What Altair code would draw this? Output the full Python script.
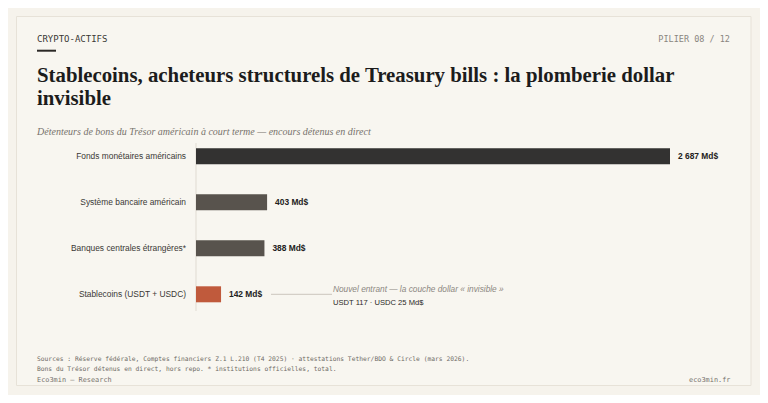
import altair as alt
import pandas as pd

# ---- data ----
categories = [
    "Fonds monétaires américains",
    "Système bancaire américain",
    "Banques centrales étrangères*",
    "Stablecoins (USDT + USDC)",
]
values = [2687, 403, 388, 142]  # Md$
value_labels = ["2 687 Md$", "403 Md$", "388 Md$", "142 Md$"]
bar_colors = ["#333231", "#58534d", "#58534d", "#c05a3c"]

annot_title = "Nouvel entrant — la couche dollar « invisible »"
annot_detail = "USDT 117 · USDC 25 Md$"

kicker = "CRYPTO-ACTIFS"
pillar = "PILIER 08 / 12"
title_lines = [
    "Stablecoins, acheteurs structurels de Treasury bills : la plomberie dollar",
    "invisible",
]
subtitle = "Détenteurs de bons du Trésor américain à court terme — encours détenus en direct"
source_lines = [
    "Sources : Réserve fédérale, Comptes financiers Z.1 L.210 (T4 2025) · attestations Tether/BDO & Circle (mars 2026).",
    "Bons du Trésor détenus en direct, hors repo. * institutions officielles, total.",
]
brand_left = "Eco3min — Research"
brand_right = "eco3min.fr"

df = pd.DataFrame({"cat": categories, "val": values, "lab": value_labels})

W, H = 752, 387
BG = "#f6f3ec"
CARD = "#f8f6f0"

xs = alt.Scale(domain=[0, 2687], range=[188, 662])
ys = alt.Scale(domain=categories, range=[125.3, 309.3], paddingInner=0, paddingOuter=0)

one = alt.Data(values=[{"a": 1}])

card = alt.Chart(one).mark_rect(fill=CARD, stroke="#e7e2d8", strokeWidth=1).encode(
    x=alt.value(8.5), x2=alt.value(743), y=alt.value(8.5), y2=alt.value(377.5)
)

def txt(text, x, y, **kw):
    return alt.Chart(one).mark_text(text=text, **kw).encode(x=alt.value(x), y=alt.value(y))

kick = txt(kicker, 29, 30.5, font="DejaVu Sans Mono", fontSize=9, color="#3a3835",
           align="left", baseline="middle")
pil = txt(pillar, 722, 30.5, font="DejaVu Sans Mono", fontSize=8.5, color="#8a8580",
          align="right", baseline="middle")
dash = alt.Chart(one).mark_rule(color="#2b2926", strokeWidth=2).encode(
    x=alt.value(29), x2=alt.value(48), y=alt.value(42.7)
)
title = txt(title_lines, 29, 73.7, font="Liberation Serif", fontWeight="bold", fontSize=20.8,
            color="#1c1c1c", align="left", baseline="alphabetic", lineHeight=23.3)
sub = txt(subtitle, 29, 123.7, font="Liberation Serif", fontStyle="italic", fontSize=10,
          color="#77726c", align="left", baseline="middle")

base = alt.Chart(df)

axis_rule = alt.Chart(one).mark_rule(color="#e0dbd2", strokeWidth=1).encode(
    x=alt.datum(0, scale=xs, axis=None), y=alt.value(135), y2=alt.value(303)
)

bars = base.mark_bar(size=16).encode(
    x=alt.X("val:Q", scale=xs, axis=None),
    y=alt.Y("cat:N", scale=ys, axis=None, sort=categories),
    color=alt.Color("cat:N", scale=alt.Scale(domain=categories, range=bar_colors), legend=None),
)

cat_labels = base.mark_text(font="Liberation Sans", fontSize=8.4, color="#3a3835",
                            align="right", baseline="middle").encode(
    x=alt.value(178),
    y=alt.Y("cat:N", scale=ys, axis=None, sort=categories),
    text="cat:N",
)

val_labels = base.mark_text(font="Liberation Sans", fontSize=8.4, fontWeight="bold",
                            color="#222120", align="left", baseline="middle", dx=8).encode(
    x=alt.X("val:Q", scale=xs, axis=None),
    y=alt.Y("cat:N", scale=ys, axis=None, sort=categories),
    text="lab:N",
)

stable = alt.Data(values=[{"cat": categories[3]}])
connector = alt.Chart(stable).mark_rule(color="#cbc6bd", strokeWidth=1).encode(
    x=alt.value(263), x2=alt.value(324),
    y=alt.Y("cat:N", scale=ys, axis=None),
)
ann1 = alt.Chart(stable).mark_text(text=annot_title, font="Liberation Sans", fontStyle="italic",
                                   fontSize=8.3, color="#8c8781", align="left", baseline="middle",
                                   dy=-4.5).encode(
    x=alt.value(325), y=alt.Y("cat:N", scale=ys, axis=None)
)
ann2 = alt.Chart(stable).mark_text(text=annot_detail, font="Liberation Sans", fontSize=7.6,
                                   color="#2b2926", align="left", baseline="middle",
                                   dy=8.5).encode(
    x=alt.value(325), y=alt.Y("cat:N", scale=ys, axis=None)
)

src1 = txt(source_lines[0], 29, 351.3, font="DejaVu Sans Mono", fontSize=6.3, color="#6e6a65",
           align="left", baseline="middle")
src2 = txt(source_lines[1], 29, 360.7, font="DejaVu Sans Mono", fontSize=6.3, color="#6e6a65",
           align="left", baseline="middle")
bl = txt(brand_left, 29, 372.3, font="DejaVu Sans Mono", fontSize=6.9, color="#77726c",
         align="left", baseline="middle")
br = txt(brand_right, 722.5, 372.3, font="DejaVu Sans Mono", fontSize=6.9, color="#77726c",
         align="right", baseline="middle")

chart = alt.layer(
    card, kick, pil, dash, title, sub, axis_rule, bars, cat_labels, val_labels,
    connector, ann1, ann2, src1, src2, bl, br,
).properties(
    width=W, height=H, padding=0, autosize=alt.AutoSizeParams(type="none"),
    background=BG,
).configure_view(stroke=None)

chart.save("out.html", embed_options={"renderer": "svg", "actions": False})
